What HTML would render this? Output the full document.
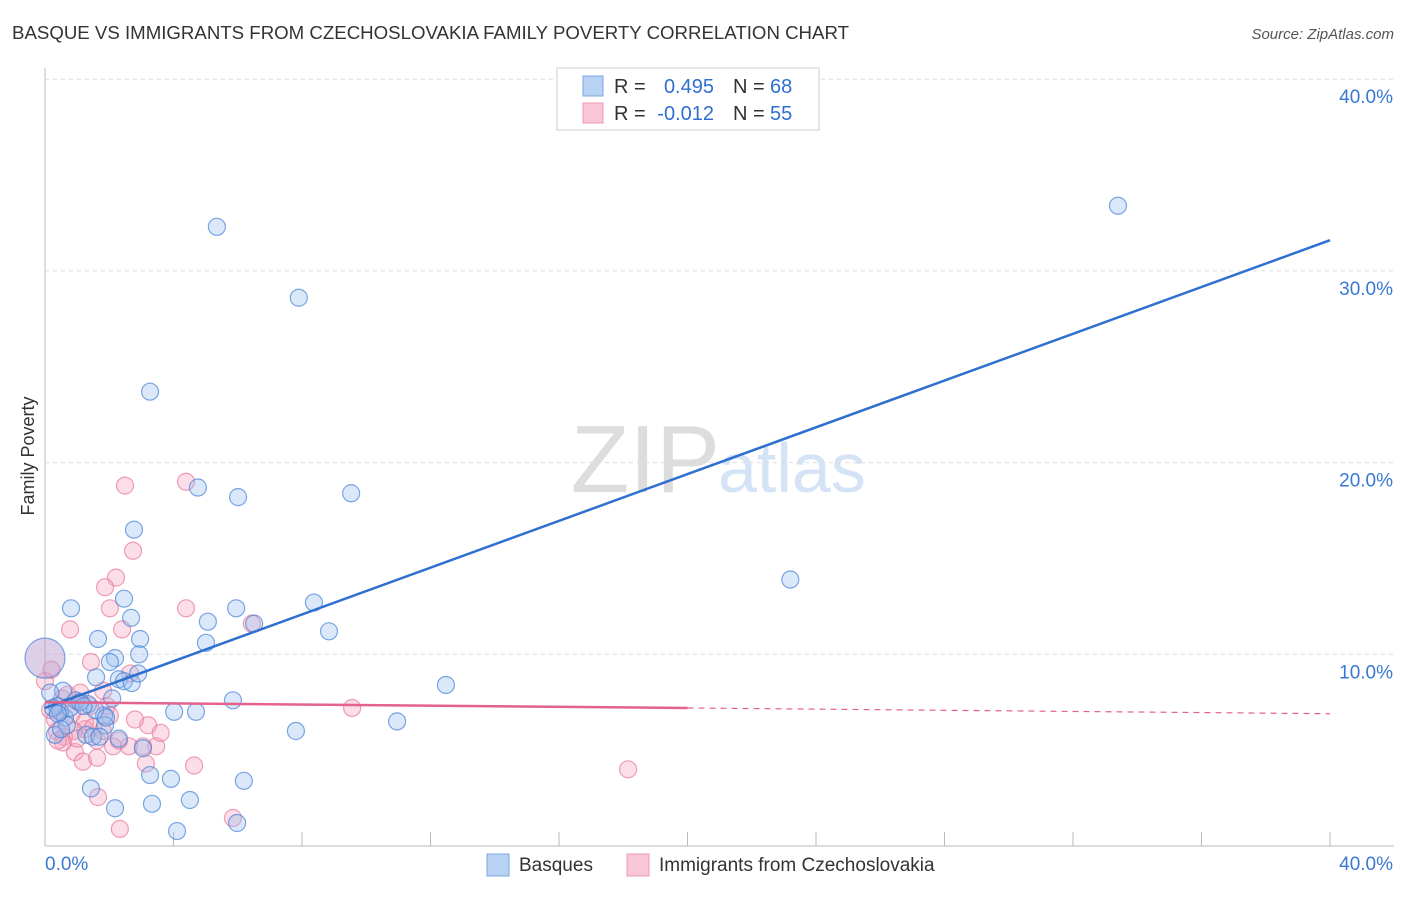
<!DOCTYPE html>
<html><head><meta charset="utf-8"><style>
body{margin:0;background:#fff;font-family:"Liberation Sans",sans-serif;}
svg text{font-family:"Liberation Sans",sans-serif;}
</style></head><body>
<svg width="1406" height="892" id="c">
<text x="12" y="39" font-size="18" fill="#333" textLength="837" lengthAdjust="spacingAndGlyphs">BASQUE VS IMMIGRANTS FROM CZECHOSLOVAKIA FAMILY POVERTY CORRELATION CHART</text>
<text x="1394" y="39" font-size="15" fill="#555" font-style="italic" text-anchor="end">Source: ZipAtlas.com</text>
<text x="720" y="492" font-size="96" fill="#ddd" text-anchor="end" font-family="Liberation Serif">ZIP</text>
<text x="718" y="492" font-size="70" fill="#d4e3f5">atlas</text>
<text x="34" y="456" font-size="18" fill="#333" transform="rotate(-90 34 456)" text-anchor="middle">Family Poverty</text>
<g id="grid"></g><g id="pts"></g><g id="lines"></g>
<g>
<rect x="557" y="68" width="262" height="62" fill="#fff" stroke="#ccc"/>
<rect x="583" y="76" width="20" height="20" fill="#b8d2f3" stroke="#7aa6e0"/>
<rect x="583" y="103" width="20" height="20" fill="#f8c6d5" stroke="#eb9ab2"/>
<text x="614" y="93" font-size="20" fill="#333">R =</text>
<text x="714" y="93" font-size="20" fill="#2f6fd0" text-anchor="end">0.495</text>
<text x="733" y="93" font-size="20" fill="#333">N =</text>
<text x="770" y="93" font-size="20" fill="#2f6fd0">68</text>
<text x="614" y="120" font-size="20" fill="#333">R =</text>
<text x="714" y="120" font-size="20" fill="#2f6fd0" text-anchor="end">-0.012</text>
<text x="733" y="120" font-size="20" fill="#333">N =</text>
<text x="770" y="120" font-size="20" fill="#2f6fd0">55</text>
</g>
<g>
<rect x="487" y="854" width="22" height="22" fill="#b8d2f3" stroke="#7aa6e0"/>
<text x="519" y="871" font-size="19" fill="#333">Basques</text>
<rect x="627" y="854" width="22" height="22" fill="#f8c6d5" stroke="#eb9ab2"/>
<text x="659" y="871" font-size="19" fill="#333">Immigrants from Czechoslovakia</text>
</g>
</svg>
<script>
const yTicks=[10,20,30,40];
const xTickLabels=["0.0%","40.0%"];
const basques=[[5.35,32.3],[7.9,28.6],[3.27,23.7],[33.4,33.4],[4.76,18.7],[6.01,18.2],[9.53,18.4],[2.77,16.5],[23.2,13.9],[2.46,12.9],[0.81,12.4],[2.68,11.9],[5.07,11.7],[5.95,12.4],[8.37,12.7],[8.84,11.2],[1.65,10.8],[2.96,10.8],[5.01,10.6],[6.51,11.6],[2.93,10.0],[2.18,9.8],[2.02,9.6],[1.59,8.8],[2.30,8.7],[2.46,8.6],[12.48,8.4],[0.56,8.1],[0.16,8.0],[5.85,7.6],[2.09,7.7],[0.96,7.6],[1.34,7.4],[0.37,7.3],[4.02,7.0],[4.70,7.0],[1.84,6.8],[0.62,6.7],[1.87,6.3],[10.96,6.5],[7.81,6.0],[1.28,5.8],[1.49,5.7],[0.31,5.8],[3.05,5.1],[3.27,3.7],[3.92,3.5],[6.19,3.4],[1.43,3.0],[4.51,2.4],[2.18,1.97],[3.33,2.2],[4.11,0.78],[5.98,1.2],[1.56,7.1],[0.47,7.0],[0.78,7.2],[1.09,7.5],[0.68,6.3],[2.30,5.6],[1.90,6.7],[2.70,8.5],[0.25,7.2],[0.40,6.9],[1.20,7.3],[1.70,5.7],[2.90,9.0],[0.50,6.1]];
const czech=[[4.39,19.0],[2.49,18.8],[2.74,15.4],[2.21,14.0],[1.87,13.5],[2.02,12.4],[0.78,11.3],[4.39,12.4],[6.44,11.6],[2.40,11.3],[1.43,9.6],[2.65,9.0],[1.81,8.1],[0.53,7.7],[1.03,7.5],[1.40,7.3],[1.93,7.3],[0.16,7.1],[0.47,7.0],[0.84,6.9],[9.56,7.2],[3.21,6.3],[1.25,6.1],[0.37,6.0],[0.59,5.7],[1.62,5.5],[0.56,5.4],[2.12,5.2],[2.61,5.2],[3.46,5.2],[3.05,5.2],[0.93,4.9],[1.18,4.4],[1.62,4.6],[4.64,4.2],[3.14,4.3],[18.15,4.0],[1.65,2.55],[5.85,1.46],[2.33,0.89],[0.0,8.6],[0.31,6.6],[2.02,6.8],[1.25,6.5],[0.90,6.0],[2.30,5.5],[1.00,5.6],[0.70,7.9],[1.50,6.2],[2.80,6.6],[0.20,9.2],[1.10,8.0],[3.60,5.9],[0.40,5.5],[1.80,6.0]];
const blueLine=[[0,7.2],[40,31.6]];
const pinkLine=[[0,7.5],[20,7.2],[40,6.9]];
const X=v=>45+v*32.125, Y=v=>846-v*19.17;
const NS="http://www.w3.org/2000/svg";
function mk(t,a,p){const e=document.createElementNS(NS,t);for(const k in a)e.setAttribute(k,a[k]);p.appendChild(e);return e;}
const g=document.getElementById('grid');
mk('line',{x1:45,y1:68,x2:45,y2:846,stroke:'#bbb'},g);
mk('line',{x1:45,y1:846,x2:1394,y2:846,stroke:'#bbb'},g);
for(let i=0;i<=10;i++){mk('line',{x1:X(i*4),y1:846,x2:X(i*4),y2:832,stroke:'#bbb'},g);}
yTicks.forEach(t=>{mk('line',{x1:45,y1:Y(t),x2:1394,y2:Y(t),stroke:'#ddd','stroke-dasharray':'4,4'},g);
const tx=mk('text',{x:1393,y:Y(t)+24,'font-size':19,fill:'#3a78d4','text-anchor':'end'},g);tx.textContent=t.toFixed(1)+'%';

});
let a=mk('text',{x:45,y:870,'font-size':19,fill:'#3a78d4'},g);a.textContent=xTickLabels[0];


a=mk('text',{x:1393,y:870,'font-size':19,fill:'#3a78d4','text-anchor':'end'},g);a.textContent=xTickLabels[1];


const p=document.getElementById('pts');
czech.forEach(d=>{const c=mk('circle',{cx:X(d[0]),cy:Y(d[1]),r:8.5,fill:'rgba(244,160,186,0.35)',stroke:'rgba(232,120,155,0.7)','stroke-width':1.2},p);

});
basques.forEach(d=>{const c=mk('circle',{cx:X(d[0]),cy:Y(d[1]),r:8.5,fill:'rgba(150,190,240,0.35)',stroke:'rgba(70,130,215,0.7)','stroke-width':1.2},p);

});
const big=mk('circle',{cx:X(0),cy:Y(9.8),r:20,fill:'rgba(190,160,210,0.5)',stroke:'rgba(70,130,215,0.7)','stroke-width':1.2},p);


const L=document.getElementById('lines');
let l=mk('line',{x1:X(blueLine[0][0]),y1:Y(blueLine[0][1]),x2:X(blueLine[1][0]),y2:Y(blueLine[1][1]),stroke:'#2f6fd0','stroke-width':2.5},L);


l=mk('line',{x1:X(pinkLine[0][0]),y1:Y(pinkLine[0][1]),x2:X(pinkLine[1][0]),y2:Y(pinkLine[1][1]),stroke:'#e4628c','stroke-width':2.5},L);


l=mk('line',{x1:X(pinkLine[1][0]),y1:Y(pinkLine[1][1]),x2:X(pinkLine[2][0]),y2:Y(pinkLine[2][1]),stroke:'#e4628c','stroke-width':1.2,'stroke-dasharray':'6,5'},L);


</script>
</body></html>
